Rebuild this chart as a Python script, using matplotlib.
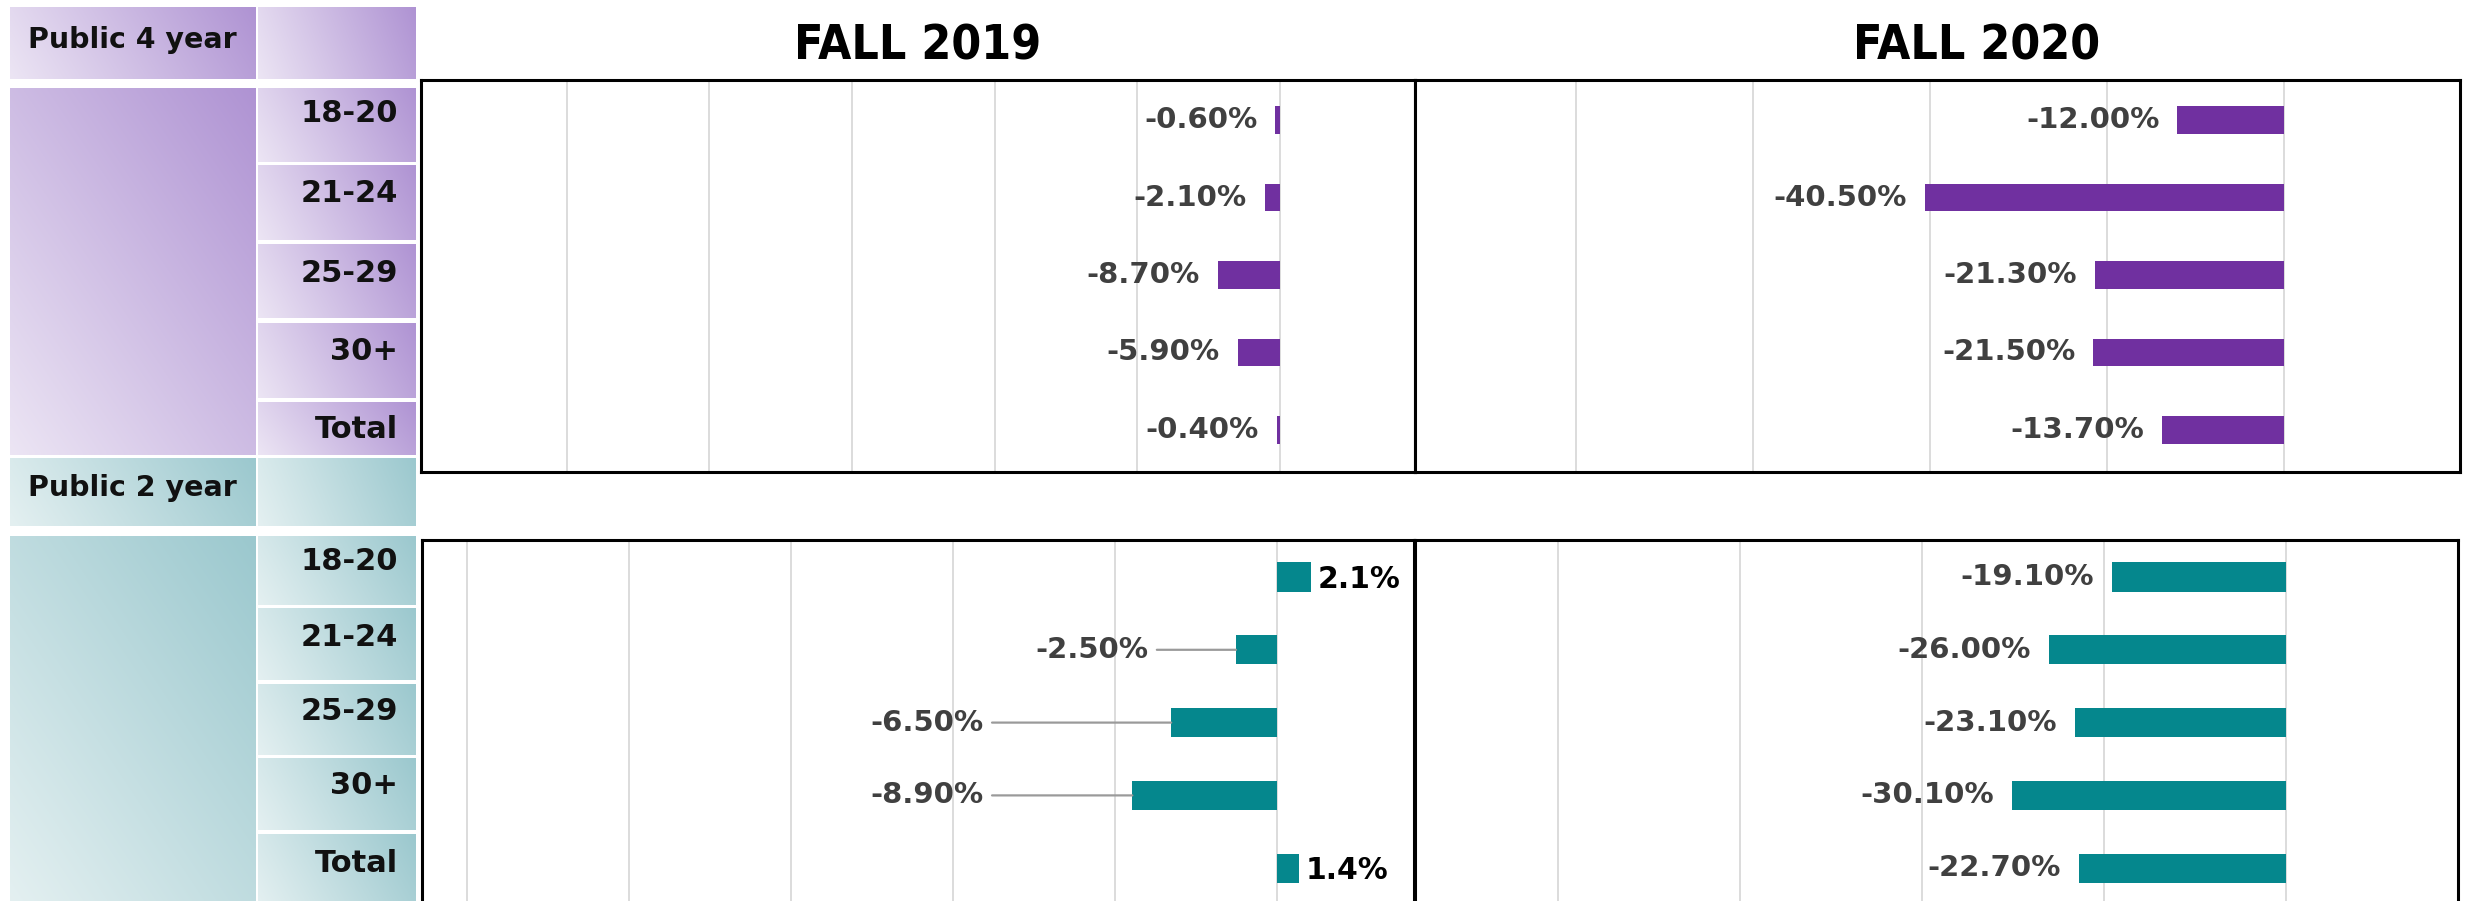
import numpy as np
import matplotlib
matplotlib.use("Agg")
import matplotlib.pyplot as plt
from matplotlib.colors import to_rgb

W, H = 2479, 901

# data
categories = ['18-20', '21-24', '25-29', '30+', 'Total']
p4_2019 = [-0.6, -2.1, -8.7, -5.9, -0.4]
p4_2020 = [-12.0, -40.5, -21.3, -21.5, -13.7]
p2_2019 = [2.1, -2.5, -6.5, -8.9, 1.4]
p2_2020 = [-19.1, -26.0, -23.1, -30.1, -22.7]
titles = ['FALL 2019', 'FALL 2020']
groups = ['Public 4 year', 'Public 2 year']

purple = '#7030A0'
teal = '#05878D'
lab_col = '#404040'

fig = plt.figure(figsize=(W / 100, H / 100), dpi=100)
bg = fig.add_axes([0, 0, 1, 1])
bg.set_xlim(0, W)
bg.set_ylim(H, 0)
bg.axis('off')


def grad_box(x0, y0, x1, y1, light, dark, wx=0.6):
    n = 80
    u = np.linspace(0, 1, n)
    U, V = np.meshgrid(u, u)
    t = wx * U + (1 - wx) * (1 - V)
    t = t / t.max()
    lo = np.array(to_rgb(light))
    hi = np.array(to_rgb(dark))
    img = lo + t[..., None] * (hi - lo)
    bg.imshow(img, extent=(x0, x1, y1, y0), origin='upper',
              interpolation='bilinear', aspect='auto', zorder=1)


# left-hand label table
tables = [
    dict(head=(7, 79), body=(88, 455),
         rows=[(88, 162), (165, 240), (244, 318), (323, 398), (402, 455)],
         ytxt=[114, 193, 273, 351, 430], yhead=40,
         light='#ECE5F4', dark='#AF93D3'),
    dict(head=(458, 526), body=(536, 905),
         rows=[(536, 605), (608, 680), (684, 755), (758, 830), (834, 905)],
         ytxt=[562, 637, 711, 786, 863], yhead=488,
         light='#E4F0F1', dark='#9BC8CE'),
]
for g, tb in zip(groups, tables):
    grad_box(10, tb['head'][0], 256, tb['head'][1], tb['light'], tb['dark'], 0.85)
    grad_box(258, tb['head'][0], 416, tb['head'][1], tb['light'], tb['dark'], 0.85)
    grad_box(10, tb['body'][0], 256, tb['body'][1], tb['light'], tb['dark'], 0.5)
    bg.text(28, tb['yhead'], g, fontsize=20.5, fontweight='bold', color='#111111',
            ha='left', va='center', zorder=3)
    for (r0, r1), yt, c in zip(tb['rows'], tb['ytxt'], categories):
        grad_box(258, r0, 416, r1, tb['light'], tb['dark'], 0.8)
        bg.text(398, yt, c, fontsize=22, fontweight='bold', color='#111111',
                ha='right', va='center', zorder=3)

# titles
for t, xc in zip(titles, [918, 1977]):
    bg.text(xc, 46, t, fontsize=34.5, fontweight='bold', fontstretch='condensed',
            color='#000000', ha='center', va='center')


def panel(x0, y0, x1, y1, zero, ppu, yc0, dy, ticks):
    ax = fig.add_axes([x0 / W, 1 - y1 / H, (x1 - x0) / W, (y1 - y0) / H])
    ax.set_xlim((x0 - zero) / ppu, (x1 - zero) / ppu)
    ax.set_ylim((y1 - yc0) / dy, (y0 - yc0) / dy)
    ax.set_xticks(ticks)
    ax.set_yticks([])
    ax.tick_params(axis='x', length=0, labelbottom=False)
    ax.grid(axis='x', color='#D9D9D9', lw=1.3)
    ax.set_axisbelow(True)
    for s in ax.spines.values():
        s.set_linewidth(2.2)
        s.set_color('black')
    return ax


y = np.arange(len(categories))

# Public 4 year
ax1 = panel(421, 80, 1415, 472, 1279.7, 7.13, 120, 77.5, np.arange(-100, 1, 20))
ax2 = panel(1415, 80, 2460, 472, 2283.6, 8.85, 120, 77.5, np.arange(-80, 1, 20))
for ax, vals in [(ax1, p4_2019), (ax2, p4_2020)]:
    ax.barh(y, vals, height=0.355, color=purple, zorder=2)
    for i, v in enumerate(vals):
        ax.annotate(f'{v:.2f}%', (v, i), xytext=(-13, 0), textcoords='offset points',
                    ha='right', va='center', fontsize=21, fontweight='bold',
                    color=lab_col)

# Public 2 year
ax3 = panel(422, 540, 1414, 945, 1276.5, 16.2, 577, 72.8, np.arange(-50, 1, 10))
ax4 = panel(1415, 540, 2458, 945, 2285.6, 9.1, 577, 72.8, np.arange(-80, 1, 20))
ax3.barh(y, p2_2019, height=0.4, color=teal, zorder=2)
ax4.barh(y, p2_2020, height=0.4, color=teal, zorder=2)

lead_off = {1: -63, 2: -135, 3: -107}  # label offsets (pt) with leader lines
for i, v in enumerate(p2_2019):
    if v > 0:
        ax3.annotate(f'{v:.1f}%', (v, i), xytext=(5, -2), textcoords='offset points',
                     ha='left', va='center', fontsize=21.5, fontweight='bold',
                     color='#000000')
    else:
        ax3.annotate(f'{v:.2f}%', (v, i), xytext=(lead_off[i], 0),
                     textcoords='offset points', ha='right', va='center',
                     fontsize=21, fontweight='bold', color=lab_col,
                     arrowprops=dict(arrowstyle='-', color='#9A9A9A', lw=1.6,
                                     shrinkA=4, shrinkB=0))
for i, v in enumerate(p2_2020):
    ax4.annotate(f'{v:.2f}%', (v, i), xytext=(-13, 0), textcoords='offset points',
                 ha='right', va='center', fontsize=21, fontweight='bold',
                 color=lab_col)

plt.savefig('out.png', dpi=100)
